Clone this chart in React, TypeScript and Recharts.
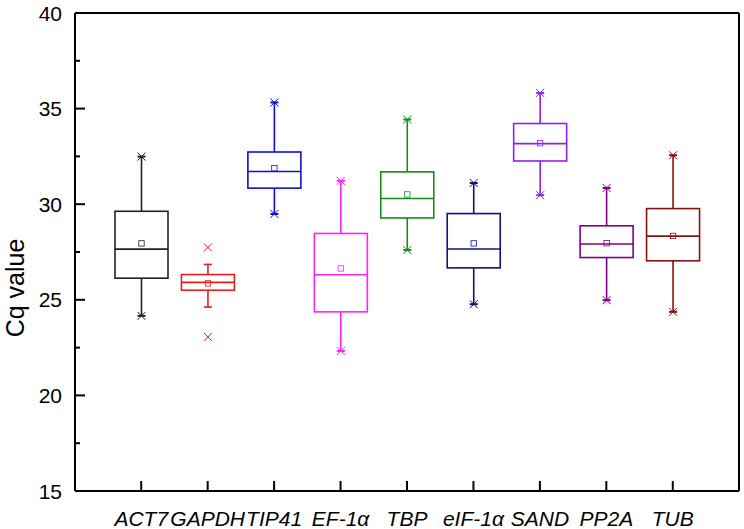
import { Bar, ComposedChart, Line, XAxis, YAxis } from "recharts";

const genes = ["ACT7", "GAPDH", "TIP41", "EF-1α", "TBP", "eIF-1α", "SAND", "PP2A", "TUB"];
const minValues = [24.16, 23.06, 29.49, 22.32, 27.6, 24.77, 30.47, 24.98, 24.37];
const whiskerLow = [24.16, 24.62, 29.49, 22.32, 27.6, 24.77, 30.47, 24.98, 24.37];
const q1Values = [26.13, 25.5, 30.84, 24.37, 29.28, 26.67, 32.26, 27.21, 27.04];
const medians = [27.65, 25.91, 31.71, 26.31, 30.3, 27.66, 33.17, 27.92, 28.33];
const q3Values = [29.63, 26.32, 32.73, 28.47, 31.69, 29.51, 34.22, 28.87, 29.77];
const whiskerHigh = [32.49, 26.85, 35.32, 31.22, 34.43, 31.11, 35.82, 30.85, 32.56];
const maxValues = [32.49, 27.74, 35.32, 31.22, 34.43, 31.11, 35.82, 30.85, 32.56];
const means = [27.95, 25.86, 31.88, 26.64, 30.51, 27.95, 33.19, 27.96, 28.34];
const colors = ["#222222", "#e02020", "#1010d0", "#ff22ff", "#1a8a1a", "#101080", "#9020f0", "#800080", "#8b1010"];
const yTicks = [15, 17.5, 20, 22.5, 25, 27.5, 30, 32.5, 35, 37.5, 40];

const FONT = "'Liberation Sans', Arial, sans-serif";

type Row = {
  gene: string;
  min: number;
  lo: number;
  q1: number;
  median: number;
  q3: number;
  hi: number;
  max: number;
  mean: number;
  color: string;
};

const rows: Row[] = genes.map((gene, i) => ({
  gene,
  min: minValues[i],
  lo: whiskerLow[i],
  q1: q1Values[i],
  median: medians[i],
  q3: q3Values[i],
  hi: whiskerHigh[i],
  max: maxValues[i],
  mean: means[i],
  color: colors[i]
}));

function Cross({ cx, cy, color, bar }: { cx: number; cy: number; color: string; bar: boolean }) {
  const s = 4;
  return (
    <g stroke={color} strokeWidth={1}>
      <line x1={cx - s} x2={cx + s} y1={cy - s} y2={cy + s} />
      <line x1={cx - s} x2={cx + s} y1={cy + s} y2={cy - s} />
      {bar && <line x1={cx - s} x2={cx + s} y1={cy} y2={cy} strokeWidth={2} />}
    </g>
  );
}

// the bar spans min..max; everything else is placed along that pixel range
function BoxShape(props: any) {
  const { x, y, width, height, payload } = props;
  const d = payload as Row;
  const top = height >= 0 ? y : y + height;
  const h = Math.abs(height);
  const span = d.max - d.min;
  const py = (v: number) => top + ((d.max - v) / span) * h;
  const cx = x + width / 2;
  const c = d.color;
  const capLow = d.lo !== d.min;
  const capHigh = d.hi !== d.max;
  return (
    <g fill="none">
      <line x1={cx} x2={cx} y1={py(d.hi)} y2={py(d.q3)} stroke={c} strokeWidth={1.6} />
      <line x1={cx} x2={cx} y1={py(d.q1)} y2={py(d.lo)} stroke={c} strokeWidth={1.6} />
      {capHigh && <line x1={cx - 4} x2={cx + 4} y1={py(d.hi)} y2={py(d.hi)} stroke={c} strokeWidth={1.6} />}
      {capLow && <line x1={cx - 4} x2={cx + 4} y1={py(d.lo)} y2={py(d.lo)} stroke={c} strokeWidth={1.6} />}
      <rect x={x} y={py(d.q3)} width={width} height={py(d.q1) - py(d.q3)} stroke={c} strokeWidth={1.6} />
      <line x1={x} x2={x + width} y1={py(d.median)} y2={py(d.median)} stroke={c} strokeWidth={1.6} />
      <rect x={cx - 2.7} y={py(d.mean) - 2.7} width={5.4} height={5.4} stroke={c} strokeWidth={0.8} />
      <Cross cx={cx} cy={py(d.max)} color={c} bar={!capHigh} />
      <Cross cx={cx} cy={py(d.min)} color={c} bar={!capLow} />
    </g>
  );
}

function YTick(props: any) {
  const { x, y, payload } = props;
  const major = payload.value % 5 === 0;
  return (
    <g>
      <line x1={x} x2={x + (major ? 10 : 5)} y1={y} y2={y} stroke="#000" strokeWidth={2} />
      {major && (
        <text x={x - 13} y={y} dy="0.36em" textAnchor="end" fontSize={21} fontFamily={FONT} fill="#000">
          {payload.value}
        </text>
      )}
    </g>
  );
}

function XTick(props: any) {
  const { x, y, payload } = props;
  return (
    <g>
      <line x1={x} x2={x} y1={y} y2={y - 10} stroke="#000" strokeWidth={2} />
      <text x={x} y={y + 35} textAnchor="middle" fontSize={21} fontStyle="italic" fontFamily={FONT} fill="#000">
        {payload.value}
      </text>
    </g>
  );
}

function YLabel(props: any) {
  const { viewBox } = props;
  const lx = viewBox.x + 24;
  const ly = viewBox.y + viewBox.height / 2 + 36;
  return (
    <text x={lx} y={ly} transform={`rotate(-90, ${lx}, ${ly})`} textAnchor="middle" fontSize={25} fontFamily={FONT} fill="#000">
      Cq value
    </text>
  );
}

export default function App() {
  return (
    <div style={{ position: "absolute", left: 0, top: 0, background: "#fff" }}>
      <ComposedChart width={744} height={529} data={rows} margin={{ top: 12, right: 4, left: 0, bottom: 0 }}>
        <XAxis
          dataKey="gene"
          type="category"
          height={38}
          interval={0}
          padding={{ left: 33, right: 33 }}
          axisLine={{ stroke: "#000", strokeWidth: 2 }}
          tickLine={false}
          tickSize={0}
          tickMargin={0}
          tick={<XTick />}
        />
        <XAxis
          xAxisId="top"
          orientation="top"
          dataKey="gene"
          height={1}
          axisLine={{ stroke: "#000", strokeWidth: 2 }}
          tickLine={false}
          tick={false}
        />
        <YAxis
          type="number"
          domain={[15, 40]}
          ticks={yTicks}
          width={75}
          interval={0}
          axisLine={{ stroke: "#000", strokeWidth: 2 }}
          tickLine={false}
          tickSize={0}
          tickMargin={0}
          tick={<YTick />}
          label={<YLabel />}
        />
        <YAxis
          yAxisId="right"
          orientation="right"
          type="number"
          domain={[15, 40]}
          width={1}
          axisLine={{ stroke: "#000", strokeWidth: 2 }}
          tickLine={false}
          tick={false}
        />
        <Bar
          dataKey={(d: Row) => [d.min, d.max]}
          barSize={53}
          shape={<BoxShape />}
          isAnimationActive={false}
        />
        {/* invisible series so the frame axes (top, right) get drawn */}
        <Line
          xAxisId="top"
          yAxisId="right"
          dataKey="mean"
          stroke="none"
          dot={false}
          activeDot={false}
          legendType="none"
          isAnimationActive={false}
        />
      </ComposedChart>
    </div>
  );
}
